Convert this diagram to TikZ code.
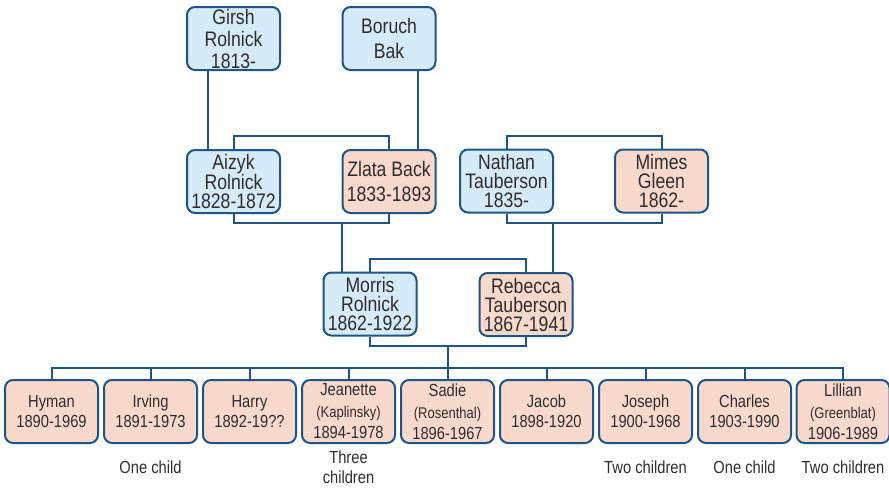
\documentclass[tikz,border=0pt]{standalone}
\usepackage{fontspec}
\setmainfont{Liberation Sans}[FakeStretch=0.84]
\definecolor{bluefill}{RGB}{214,235,249}
\definecolor{pinkfill}{RGB}{249,217,203}
\definecolor{edgecol}{RGB}{30,84,134}
\definecolor{textcol}{RGB}{45,45,45}
\newcommand\bigfnt{\fontsize{21}{19}\selectfont}
\newcommand\midfnt{\fontsize{17.5}{20}\selectfont}
\newcommand\smallfnt{\fontsize{15.5}{17}\selectfont}
\begin{document}
\begin{tikzpicture}[x=1pt,y=-1pt,
  person/.style={draw=edgecol, line width=2pt, rounded corners=8pt,
    minimum width=93pt, minimum height=63pt, inner sep=0pt, align=center,
    text=textcol},
  man/.style={person, fill=bluefill, font=\bigfnt},
  woman/.style={person, fill=pinkfill, font=\bigfnt},
  child/.style={person, fill=pinkfill, font=\midfnt},
  link/.style={draw=edgecol, line width=2pt},
  note/.style={text=textcol, font=\midfnt, align=center, inner sep=0pt}]
\useasboundingbox (0,0) rectangle (889,488);
% grandparents
\node[man] (girsh) at (233.5,38.5) {Girsh\\[3pt]Rolnick\\[3pt]1813-};
\node[man] (boruch) at (389,38.5) {Boruch\\[6pt]Bak};
\node[man] (aizyk) at (233.5,181.5) {Aizyk\\Rolnick\\1828-1872};
\node[woman] (zlata) at (389,181.5) {Zlata Back\\[6pt]1833-1893};
\node[man] (nathan) at (506.5,181) {Nathan\\Tauberson\\1835-};
\node[woman] (mimes) at (661.5,181) {Mimes\\Gleen\\1862-};
\node[man] (morris) at (370,304) {Morris\\Rolnick\\1862-1922};
\node[woman] (rebecca) at (526,304.5) {Rebecca\\Tauberson\\1867-1941};
% children
\node[child] (c1) at (51.5,411.5) {Hyman\\1890-1969};
\node[child] (c2) at (150.5,411.5) {Irving\\1891-1973};
\node[child] (c3) at (249.5,411.5) {Harry\\1892-19??};
\node[child] (c4) at (348.5,411.5) {Jeanette\\[2pt]{\smallfnt(Kaplinsky)}\\[1pt]1894-1978};
\node[child] (c5) at (447.5,411.5) {Sadie\\[2pt]{\smallfnt(Rosenthal)}\\[1pt]1896-1967};
\node[child] (c6) at (546.5,411.5) {Jacob\\1898-1920};
\node[child] (c7) at (645.5,411.5) {Joseph\\1900-1968};
\node[child] (c8) at (744.5,411.5) {Charles\\1903-1990};
\node[child] (c9) at (843,411.5) {Lillian\\[2pt]{\smallfnt(Greenblat)}\\[1pt]1906-1989};
% notes
\node[note] (n2) at (150.5,467) {One child};
\node[note] (n4) at (348.5,467) {Three\\children};
\node[note] (n7) at (645.5,467) {Two children};
\node[note] (n8) at (744.5,467) {One child};
\node[note] (n9) at (843,467) {Two children};
% connectors: Girsh & Boruch to children
\coordinate (gL) at ([xshift=-25.5pt]girsh.south);
\coordinate (aL) at ([xshift=-25.5pt]aizyk.north);
\draw[link] (gL) -- (aL);
\coordinate (bR) at ([xshift=29pt]boruch.south);
\coordinate (zR) at ([xshift=29pt]zlata.north);
\draw[link] (bR) -- (zR);
% Aizyk + Zlata
\draw[link] (aizyk.north) -- ++(0,-13) -| (zlata.north);
\draw[link] (aizyk.south) -- ++(0,9) coordinate (azb) -| (zlata.south);
\coordinate (mL) at ([xshift=-28pt]morris.north);
\draw[link] (mL) -- (mL |- azb);
% Nathan + Mimes
\draw[link] (nathan.north) -- ++(0,-13) -| (mimes.north);
\draw[link] (nathan.south) -- ++(0,9) coordinate (nmb) -| (mimes.south);
\coordinate (rR) at ([xshift=27pt]rebecca.north);
\draw[link] (rR) -- (rR |- nmb);
% Morris + Rebecca
\draw[link] (morris.north) -- ++(0,-13) -| (rebecca.north);
\draw[link] (morris.south) -- ++(0,9) coordinate (mrb) -| (rebecca.south);
% children bus
\draw[link] (c1.north) -- ++(0,-11) coordinate (bus) -| (c9.north);
\draw[link] (mrb -| c5.north) -- (c5.north);
\foreach \c in {c2,c3,c4,c6,c7,c8}{
  \draw[link] (\c.north) -- (\c.north |- bus);
}
\end{tikzpicture}
\end{document}
